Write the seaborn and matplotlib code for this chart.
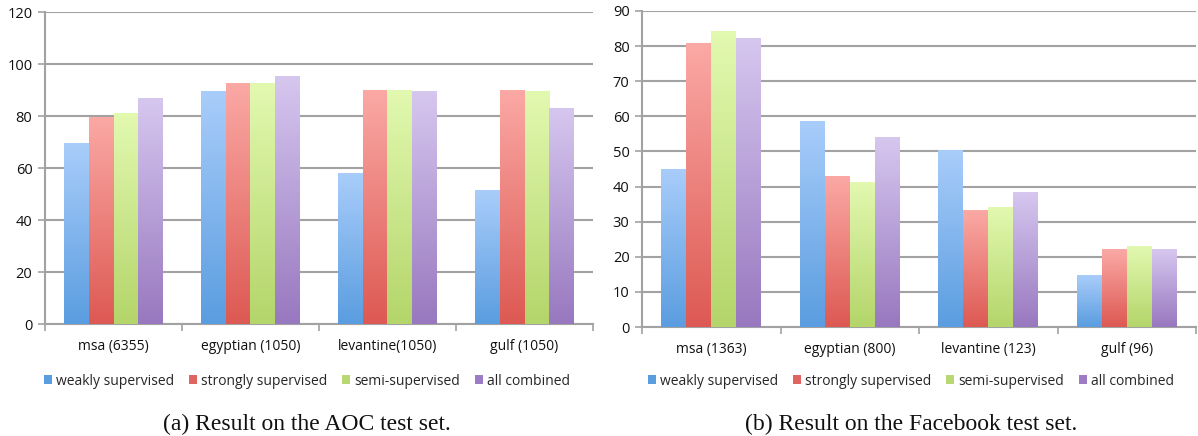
import numpy as np
import pandas as pd
import matplotlib
matplotlib.use("Agg")
import matplotlib.pyplot as plt
from matplotlib.colors import LinearSegmentedColormap
from matplotlib.patches import Patch
import seaborn as sns

methods = ["weakly supervised", "strongly supervised", "semi-supervised", "all combined"]

aoc_categories = ["msa (6355)", "egyptian (1050)", "levantine(1050)", "gulf (1050)"]
aoc_weakly = [69.6, 89.5, 58.2, 51.5]
aoc_strongly = [79.7, 92.6, 90.0, 90.0]
aoc_semi = [81.0, 92.6, 90.0, 89.6]
aoc_all = [86.9, 95.4, 89.6, 83.2]

fb_categories = ["msa (1363)", "egyptian (800)", "levantine (123)", "gulf (96)"]
fb_weakly = [45.1, 58.7, 50.4, 14.8]
fb_strongly = [80.8, 43.1, 33.3, 22.1]
fb_semi = [84.2, 41.4, 34.3, 23.1]
fb_all = [82.3, 54.1, 38.4, 22.1]

aoc_yticks = [0, 20, 40, 60, 80, 100, 120]
fb_yticks = [0, 10, 20, 30, 40, 50, 60, 70, 80, 90]

captions = ["(a) Result on the AOC test set.", "(b) Result on the Facebook test set."]

top_colors = ["#a9cdfa", "#fba9a5", "#e2f9b0", "#d6c7ef"]
bottom_colors = ["#5a9de0", "#dd5953", "#b4d56a", "#9878bf"]
legend_colors = ["#5b9ee0", "#e06560", "#b9d873", "#9c7cc2"]


def make_df(cats, series):
    rows = []
    for m, vals in zip(methods, series):
        for c, v in zip(cats, vals):
            rows.append({"category": c, "method": m, "value": v})
    return pd.DataFrame(rows)


sns.set_theme(style="white")
plt.rcParams["font.family"] = ["Open Sans", "DejaVu Sans"]

fig = plt.figure(figsize=(11.98, 4.36), dpi=100)
ax1 = fig.add_axes([45 / 1198, 112 / 436, (593 - 45) / 1198, (324 - 12) / 436])
ax2 = fig.add_axes([642 / 1198, 109 / 436, (1196 - 642) / 1198, (327 - 11) / 436])

configs = [
    (ax1, make_df(aoc_categories, [aoc_weakly, aoc_strongly, aoc_semi, aoc_all]), aoc_categories, aoc_yticks),
    (ax2, make_df(fb_categories, [fb_weakly, fb_strongly, fb_semi, fb_all]), fb_categories, fb_yticks),
]

grad = np.linspace(0, 1, 256).reshape(-1, 1)

for ax, df, cats, yt in configs:
    sns.barplot(data=df, x="category", y="value", hue="method", ax=ax,
                palette=legend_colors, width=0.72, saturation=1, legend=False,
                edgecolor="none", linewidth=0, zorder=3)
    ax.set_ylim(0, yt[-1])
    ax.set_xlim(-0.5, len(cats) - 0.5)
    ax.set_yticks(yt)
    ax.yaxis.grid(True, color="#a2a2a2", linewidth=1.5, zorder=0)
    ax.set_axisbelow(True)
    ax.set_xlabel("")
    ax.set_ylabel("")
    for s in ["top", "right"]:
        ax.spines[s].set_visible(False)
    for s in ["left", "bottom"]:
        ax.spines[s].set_color("#a2a2a2")
        ax.spines[s].set_linewidth(1.5)
    ax.tick_params(axis="y", which="major", direction="out", length=5, width=1.2,
                   color="#a2a2a2", labelsize=10.5, pad=4, left=True)
    ax.tick_params(axis="x", which="major", length=0, labelsize=10, pad=11)
    ax.set_xticks(np.arange(-0.5, len(cats) + 0.5, 1.0), minor=True)
    ax.tick_params(axis="x", which="minor", direction="out", length=5, width=1.2,
                   color="#a2a2a2", bottom=True)
    for lab in ax.get_xticklabels() + ax.get_yticklabels():
        lab.set_color("#111111")

    # gradient fill for each bar
    patches = [p for p in ax.patches if p.get_height() > 0]
    n = len(cats)
    for i, p in enumerate(patches):
        k = i // n
        cmap = LinearSegmentedColormap.from_list("g", [bottom_colors[k], top_colors[k]])
        x0, w = p.get_x(), p.get_width()
        h = p.get_height()
        im = ax.imshow(grad, cmap=cmap, aspect="auto", origin="lower",
                       extent=[x0, x0 + w, 0, h], zorder=4, interpolation="bicubic")
        im.set_clip_path(p)
    ax.set_xlim(-0.5, len(cats) - 0.5)
    ax.set_ylim(0, yt[-1])

centers = [307 / 1198, 911 / 1198]
for cx, cap in zip(centers, captions):
    handles = [Patch(facecolor=c, edgecolor="none") for c in legend_colors]
    fig.legend(handles, methods, loc="center", bbox_to_anchor=(cx, (436 - 381) / 436),
               ncol=4, frameon=False, fontsize=10, handlelength=0.6, handleheight=0.6,
               handletextpad=0.3, columnspacing=1.05)
    fig.text(cx, (436 - 424) / 436, cap, ha="center", va="center",
             fontsize=17, family=["Liberation Serif", "DejaVu Serif"], color="#111111")

fig.savefig("out.png", dpi=100)
